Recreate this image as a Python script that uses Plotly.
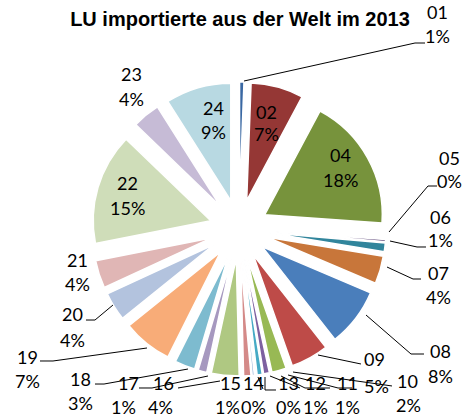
import plotly.graph_objects as go

labels = ["01", "02", "04", "05", "06", "07", "08", "09", "10", "11", "12", "13",
          "14", "15", "16", "17", "18", "19", "20", "21", "22", "23", "24"]
values = [0.6, 7.2, 18.3, 0.3, 1.2, 3.8, 8.0, 5.2, 2.0, 0.8, 0.7, 0.2,
          0.3, 1.0, 3.8, 1.2, 2.8, 6.8, 3.9, 3.8, 15.3, 3.8, 9.0]
colors = ["#3A68A3", "#953735", "#77933C", "#5F497A", "#31859C", "#C8763A",
          "#4A7EBB", "#BE4B48", "#98B954", "#7D60A0", "#46AAC5", "#F69240",
          "#95B3D7", "#D48A88", "#AFC882", "#A698BF", "#7DBBCF", "#F8AC78",
          "#B3C3DE", "#E0B6B5", "#CFDDB9", "#C6BBD6", "#B8D9E2"]

W, H = 465, 418
FONT = "Lato, Open Sans, sans-serif"
FS = 18

total = sum(values)
pct_text = {l: f"{round(100 * v / total):.0f}%" for l, v in zip(labels, values)}

fig = go.Figure(go.Pie(
    labels=labels,
    values=values,
    sort=False,
    direction="clockwise",
    rotation=0,
    pull=[0.25] * len(labels),
    marker=dict(colors=colors, line=dict(color="white", width=1.5)),
    textinfo="none",
    showlegend=False,
    domain=dict(x=[92 / W, 386 / W], y=[1 - 380 / H, 1 - 78 / H]),
    hoverinfo="label+percent",
))

# data-label placement (pixel positions of label centres: name line, percent line)
label_pos = {
    "01": (437, 12, 437, 36), "02": (266, 112, 266, 134), "04": (340, 155, 340, 180),
    "05": (449, 158, 449, 181), "06": (440, 217, 440, 240),
    "07": (438, 273, 438, 297), "08": (440, 351, 440, 376), "09": (374, 359, 376, 386),
    "10": (407, 381, 408, 405), "11": (347, 383, 347, 407), "12": (315, 383, 315, 407),
    "13": (288, 383, 288, 407), "14": (253, 383, 253, 407), "15": (230, 383, 227, 407),
    "16": (163, 383, 160, 407), "17": (128, 383, 123, 407), "18": (80, 379, 80, 403),
    "19": (27, 357, 27, 381), "20": (72, 314, 72, 340), "21": (77, 260, 77, 284),
    "22": (127, 183, 127, 208), "23": (131, 74, 131, 99), "24": (213, 108, 213, 132),
}
leader_paths = [
    [(244, 81), (415, 43), (425, 43)],
    [(389, 232), (428, 186), (437, 186)],
    [(390, 241), (417, 247), (426, 247)],
    [(387, 267), (413, 279), (421, 279)],
    [(366, 315), (411, 354), (424, 354)],
    [(318, 355), (361, 364)],
    [(293, 372), (392, 386)],
    [(288, 375), (338, 388), (352, 388)],
    [(281, 376), (305, 388), (330, 388)],
    [(270, 376), (300, 388)],
    [(265, 377), (265, 390), (276, 390)],
    [(258, 377), (263, 389)],
    [(220, 381), (178, 388)],
    [(208, 376), (152, 388), (139, 388)],
    [(188, 369), (104, 384), (95, 384)],
    [(147, 348), (53, 361), (40, 361)],
    [(113, 305), (95, 320), (86, 320)],
]

annotations = []
for l, (x1, y1, x2, y2) in label_pos.items():
    for txt, xx, yy in ((l, x1, y1), (pct_text[l], x2, y2)):
        annotations.append(dict(
            text=txt, x=xx / W, y=1 - yy / H, xref="paper", yref="paper",
            xanchor="center", yanchor="middle", showarrow=False,
            font=dict(family=FONT, size=FS, color="black"),
        ))

shapes = []
for pts in leader_paths:
    d = "M " + " L ".join(f"{px / W:.4f},{1 - py / H:.4f}" for px, py in pts)
    shapes.append(dict(type="path", path=d, xref="paper", yref="paper",
                       line=dict(color="black", width=1)))

fig.update_layout(
    width=W, height=H,
    margin=dict(l=0, r=0, t=0, b=0),
    paper_bgcolor="white",
    annotations=annotations,
    shapes=shapes,
    title=dict(text="<b>LU importierte aus der Welt im 2013</b>",
               x=240 / W, xanchor="center", y=1 - 19 / H, yanchor="middle", yref="container",
               font=dict(family="Liberation Sans, Arial, sans-serif", size=20, color="black")),
)

fig.write_html("out.html", config={"displayModeBar": False},
               post_script="document.body.style.margin='0';document.body.style.overflow='hidden';")
